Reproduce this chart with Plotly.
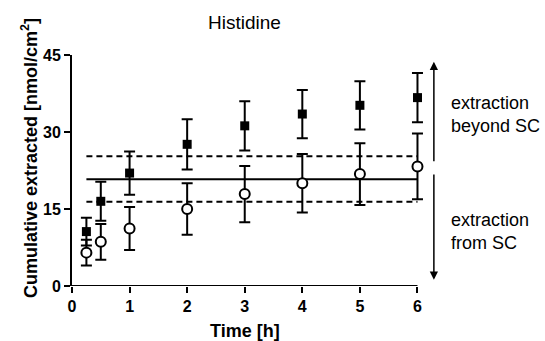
import plotly.graph_objects as go

time_h = [0.25, 0.5, 1, 2, 3, 4, 5, 6]
beyond_mean = [10.6, 16.5, 22.0, 27.6, 31.2, 33.5, 35.2, 36.7]
beyond_err = [2.7, 3.8, 4.2, 4.9, 4.8, 4.7, 4.7, 4.8]
from_mean = [6.5, 8.6, 11.2, 15.0, 17.9, 20.0, 21.8, 23.3]
from_err = [2.5, 3.5, 4.2, 5.0, 5.5, 5.7, 6.0, 6.4]
ref_x = [0.25, 6]
ref_mean = 20.8
ref_upper = 25.3
ref_lower = 16.4
x_ticks = [0, 1, 2, 3, 4, 5, 6]
y_ticks = [0, 15, 30, 45]

FONT = "Arial, Liberation Sans, sans-serif"
X_MAX = 6.2
PLOT_W = 57.6 * X_MAX
L, T, B = 72, 55, 55
R = 545 - L - PLOT_W

fig = go.Figure()

for yv, dash in [(ref_mean, "solid"), (ref_upper, "6px,4px"), (ref_lower, "6px,4px")]:
    fig.add_trace(go.Scatter(x=ref_x, y=[yv, yv], mode="lines",
                             line=dict(color="black", width=2, dash=dash),
                             showlegend=False, hoverinfo="skip"))

fig.add_trace(go.Scatter(
    x=time_h, y=from_mean, mode="markers",
    error_y=dict(type="data", array=from_err, color="black", thickness=2, width=5.5),
    marker=dict(symbol="circle", size=10, color="white", line=dict(color="black", width=2)),
    showlegend=False, cliponaxis=False))

fig.add_trace(go.Scatter(
    x=time_h, y=beyond_mean, mode="markers",
    error_y=dict(type="data", array=beyond_err, color="black", thickness=2, width=5.5),
    marker=dict(symbol="square", size=9, color="black", line=dict(color="black", width=0)),
    showlegend=False, cliponaxis=False))

axis_common = dict(showgrid=False, zeroline=False, linecolor="black",
                   linewidth=2, ticks="outside", ticklen=6, tickwidth=2, tickcolor="black",
                   tickfont=dict(family=FONT, size=16, color="black", weight="bold"))

fig.update_xaxes(range=[0, X_MAX], tickvals=x_ticks, showline=False, **axis_common)
fig.update_yaxes(range=[0, 45], tickvals=y_ticks, showline=True, **axis_common)

# x axis line ending at 6
fig.add_shape(type="line", xref="x", yref="y", x0=0, x1=x_ticks[-1], y0=0, y1=0,
              line=dict(color="black", width=2))

def px_to_paper_x(px):
    return (px - L) / PLOT_W

arrow_x = px_to_paper_x(434)
fig.add_annotation(x=arrow_x, y=43.7, xref="paper", yref="y", ax=0, ay=24.0,
                   axref="pixel", ayref="y", text="", showarrow=True, arrowhead=2,
                   arrowsize=1.1, arrowwidth=1.5, arrowcolor="black")
fig.add_annotation(x=arrow_x, y=1.2, xref="paper", yref="y", ax=0, ay=22.0,
                   axref="pixel", ayref="y", text="", showarrow=True, arrowhead=2,
                   arrowsize=1.1, arrowwidth=1.5, arrowcolor="black")

text_x = px_to_paper_x(449)
fig.add_annotation(x=text_x, y=33.4, xref="paper", yref="y", text="extraction<br>beyond SC",
                   showarrow=False, xanchor="left", yanchor="middle", align="left",
                   font=dict(family=FONT, size=18, color="black"))
fig.add_annotation(x=text_x, y=10.6, xref="paper", yref="y", text="extraction<br>from SC",
                   showarrow=False, xanchor="left", yanchor="middle", align="left",
                   font=dict(family=FONT, size=18, color="black"))

fig.add_annotation(x=px_to_paper_x(245), y=(286 - 22) / 231, xref="paper", yref="paper",
                   text="Histidine", showarrow=False, xanchor="center", yanchor="middle",
                   font=dict(family=FONT, size=19, color="black"))
fig.add_annotation(x=px_to_paper_x(245), y=-(331 - 286) / 231, xref="paper", yref="paper",
                   text="<b>Time [h]</b>", showarrow=False, xanchor="center", yanchor="middle",
                   font=dict(family=FONT, size=18, color="black"))
fig.add_annotation(x=px_to_paper_x(29), y=(286 - 158) / 231, xref="paper", yref="paper",
                   text="<b>Cumulative extracted [nmol/cm<sup>2</sup>]</b>", textangle=-90,
                   showarrow=False, xanchor="center", yanchor="middle",
                   font=dict(family=FONT, size=18, color="black"))

fig.update_layout(width=545, height=341, margin=dict(l=L, r=R, t=T, b=B),
                  plot_bgcolor="white", paper_bgcolor="white")

fig.write_html("out.html")
